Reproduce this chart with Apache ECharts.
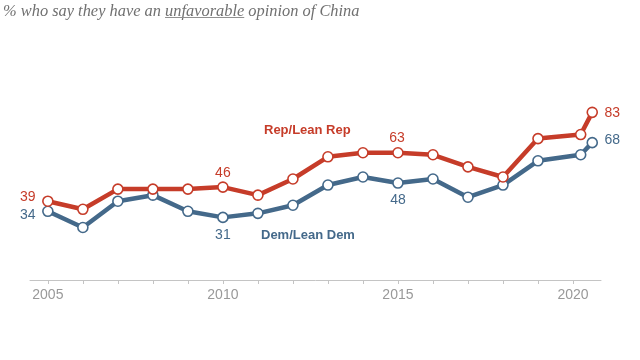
<!DOCTYPE html>
<html>
<head>
<meta charset="utf-8">
<script src="https://cdn.jsdelivr.net/npm/echarts@6/dist/echarts.min.js"></script>
<style>
html,body{margin:0;padding:0;background:#fff;}
#c{width:640px;height:360px;}
</style>
</head>
<body>
<div id="c"></div>
<script>
// ---- data ----
var years = [2005, 2006, 2007, 2008, 2009, 2010, 2011, 2012, 2013, 2014, 2015, 2016, 2017, 2018, 2019, 2020.22, 2020.55];
var repValues = [39, 35, 45, 45, 45, 46, 42, 50, 61, 63, 63, 62, 56, 51, 70, 72, 83];
var demValues = [34, 26, 39, 42, 34, 31, 33, 37, 47, 51, 48, 50, 41, 47, 59, 62, 68];
var tickYears = [2005, 2006, 2007, 2008, 2009, 2010, 2011, 2012, 2013, 2014, 2015, 2016, 2017, 2018, 2019, 2020];
var labelYears = [2005, 2010, 2015, 2020];
var titlePre = '% who say they have an ';
var titleU = 'unfavorable';
var titlePost = ' opinion of China';
var repName = 'Rep/Lean Rep';
var demName = 'Dem/Lean Dem';

// ---- styles ----
var RED = '#c63c29';
var BLUE = '#44698a';
var repLabelStyle = {0: [-20, -4], 5: [0, -14], 10: [-1, -15], 16: [20, 1]};
var demLabelStyle = {0: [-20, 4], 5: [0, 18], 10: [0, 17], 16: [20, -2]};

function build(vals, labelMap, color) {
  return vals.map(function (v, i) {
    var item = {value: [years[i], v]};
    if (labelMap[i]) {
      item.label = {show: true, position: 'inside', offset: labelMap[i],
        color: color, fontSize: 14, fontFamily: 'Liberation Sans, Arial, sans-serif',
        formatter: String(v)};
    }
    return item;
  });
}

var titleFont = 'italic 16.4px "Liberation Serif", serif';
var ctx = document.createElement('canvas').getContext('2d');
ctx.font = titleFont;
var preW = ctx.measureText(titlePre).width;
var uW = ctx.measureText(titleU).width;

var chart = echarts.init(document.getElementById('c'), null, {renderer: 'canvas'});
chart.setOption({
  animation: false,
  grid: {left: 30, right: 39, top: 78, bottom: 80},
  xAxis: {
    type: 'value', min: 2004.49, max: 2020.8,
    splitLine: {show: false},
    axisLine: {show: true, lineStyle: {color: '#c4c4c4', width: 1}},
    axisTick: {show: true, length: 4, lineStyle: {color: '#c4c4c4'}, customValues: tickYears},
    axisLabel: {show: true, customValues: labelYears, color: '#999', fontSize: 14, margin: 8,
      fontFamily: 'Liberation Sans, Arial, sans-serif', formatter: function (v) { return String(Math.round(v)); }}
  },
  yAxis: {type: 'value', min: 0, max: 100, show: false, splitLine: {show: false}},
  series: [
    {type: 'line', name: demName, data: build(demValues, demLabelStyle, BLUE),
      lineStyle: {color: BLUE, width: 4.5}, symbol: 'circle', symbolSize: 10,
      itemStyle: {color: '#fff', borderColor: BLUE, borderWidth: 1.6}, z: 2},
    {type: 'line', name: repName, data: build(repValues, repLabelStyle, RED),
      lineStyle: {color: RED, width: 4.5}, symbol: 'circle', symbolSize: 10,
      itemStyle: {color: '#fff', borderColor: RED, borderWidth: 1.6}, z: 3}
  ],
  graphic: [
    {type: 'text', left: 3, top: 4, style: {text: titlePre + titleU + titlePost, font: titleFont, fill: '#707070'}},
    {type: 'line', shape: {x1: 3 + preW, y1: 17.5, x2: 3 + preW + uW, y2: 17.5}, style: {stroke: '#909090', lineWidth: 1}},
    {type: 'text', left: 264, top: 124, style: {text: repName, font: 'bold 13px "Liberation Sans", Arial, sans-serif', fill: RED}},
    {type: 'text', left: 261, top: 229, style: {text: demName, font: 'bold 13px "Liberation Sans", Arial, sans-serif', fill: BLUE}}
  ]
});
</script>
</body>
</html>
